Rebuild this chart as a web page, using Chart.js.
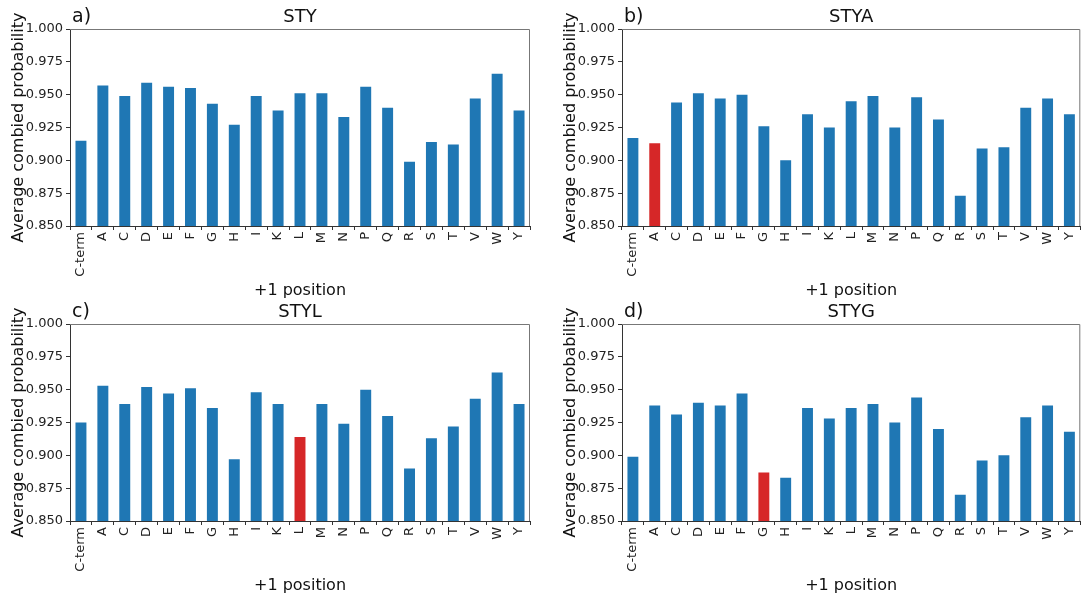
<!DOCTYPE html>
<html lang="en">
<head>
    <meta charset="UTF-8">
    <title>Average combined probability by +1 position</title>
    <script src="https://cdn.jsdelivr.net/npm/chart.js"></script>
    <style>
        body {
            margin: 0;
            background: #fff;
            width: 1081px;
            height: 597px;
            overflow: hidden;
            position: relative;
        }
        .panel {
            position: absolute;
        }
    </style>
</head>
<body>
    <canvas id="panelA" class="panel" width="540" height="300" style="left:0;top:0"></canvas>
    <canvas id="panelB" class="panel" width="535" height="300" style="left:552px;top:0"></canvas>
    <canvas id="panelC" class="panel" width="540" height="300" style="left:0;top:295px"></canvas>
    <canvas id="panelD" class="panel" width="535" height="300" style="left:552px;top:295px"></canvas>

    <script>
        // +1 position categories
        const positions = ['C-term', 'A', 'C', 'D', 'E', 'F', 'G', 'H', 'I', 'K', 'L', 'M', 'N', 'P', 'Q', 'R', 'S', 'T', 'V', 'W', 'Y'];

        // values
        const styValues  = [0.915, 0.957, 0.949, 0.959, 0.956, 0.955, 0.943, 0.927, 0.949, 0.938, 0.951, 0.951, 0.933, 0.956, 0.940, 0.899, 0.914, 0.912, 0.947, 0.966, 0.938];
        const styaValues = [0.917, 0.913, 0.944, 0.951, 0.947, 0.950, 0.926, 0.900, 0.935, 0.925, 0.945, 0.949, 0.925, 0.948, 0.931, 0.873, 0.909, 0.910, 0.940, 0.947, 0.935];
        const stylValues = [0.925, 0.953, 0.939, 0.952, 0.947, 0.951, 0.936, 0.897, 0.948, 0.939, 0.914, 0.939, 0.924, 0.950, 0.930, 0.890, 0.913, 0.922, 0.943, 0.963, 0.939];
        const stygValues = [0.899, 0.938, 0.931, 0.940, 0.938, 0.947, 0.887, 0.883, 0.936, 0.928, 0.936, 0.939, 0.925, 0.944, 0.920, 0.870, 0.896, 0.900, 0.929, 0.938, 0.918];

        // y axis range
        const yMin = 0.85;
        const yMax = 1.0;
        const yStep = 0.025;

        const BLUE = '#1f77b4';
        const RED = '#d62728';
        const FONT = "'DejaVu Sans', sans-serif";

        // box + panel letter + title, drawn relative to the plot area
        const panelDecor = {
            id: 'panelDecor',
            afterDraw(chart, args, opts) {
                const { ctx, chartArea: a } = chart;
                ctx.save();
                ctx.strokeStyle = '#777';
                ctx.lineWidth = 1;
                ctx.beginPath();
                ctx.moveTo(a.left, a.top + 0.5);
                ctx.lineTo(a.right - 0.5, a.top + 0.5);
                ctx.lineTo(a.right - 0.5, a.bottom);
                ctx.stroke();
                ctx.fillStyle = '#111';
                ctx.textBaseline = 'middle';
                ctx.font = '19px ' + FONT;
                ctx.textAlign = 'left';
                ctx.fillText(opts.letter, a.left + 2, a.top - 12);
                ctx.font = '18px ' + FONT;
                ctx.textAlign = 'center';
                ctx.fillText(opts.title, (a.left + a.right) / 2, a.top - 12);
                ctx.restore();
            }
        };

        function makePanel(id, title, letter, values, highlight, rightPad) {
            const colors = positions.map(p => p === highlight ? RED : BLUE);
            new Chart(document.getElementById(id), {
                type: 'bar',
                data: {
                    labels: positions,
                    datasets: [{
                        data: values,
                        backgroundColor: colors,
                        barPercentage: 0.5,
                        categoryPercentage: 1.0
                    }]
                },
                options: {
                    responsive: false,
                    animation: false,
                    layout: { padding: { left: 0, right: rightPad, top: 29, bottom: 0 } },
                    plugins: {
                        legend: { display: false },
                        tooltip: { enabled: false },
                        panelDecor: { title: title, letter: letter }
                    },
                    scales: {
                        x: {
                            afterFit: s => { s.height = 74; },
                            grid: { drawOnChartArea: false, tickLength: 4, color: '#333' },
                            border: { color: '#333' },
                            ticks: {
                                autoSkip: false,
                                minRotation: 90,
                                maxRotation: 90,
                                padding: 2,
                                color: '#222',
                                font: { family: FONT, size: 13 }
                            },
                            title: {
                                display: true,
                                text: '+1 position',
                                color: '#111',
                                padding: { top: 0, bottom: 0 },
                                font: { family: FONT, size: 16 }
                            }
                        },
                        y: {
                            min: yMin,
                            max: yMax,
                            afterFit: s => { s.width = 70; },
                            grid: { drawOnChartArea: false, tickLength: 4, color: '#333' },
                            border: { color: '#333' },
                            ticks: {
                                stepSize: yStep,
                                padding: 3,
                                color: '#222',
                                font: { family: FONT, size: 13 },
                                callback: v => Number(v).toFixed(3)
                            },
                            title: {
                                display: true,
                                text: 'Average combied probability',
                                color: '#111',
                                padding: { top: 9, bottom: 0 },
                                font: { family: FONT, size: 16 }
                            }
                        }
                    }
                },
                plugins: [panelDecor]
            });
        }

        makePanel('panelA', 'STY', 'a)', styValues, null, 10);
        makePanel('panelB', 'STYA', 'b)', styaValues, 'A', 0);
        makePanel('panelC', 'STYL', 'c)', stylValues, 'L', 10);
        makePanel('panelD', 'STYG', 'd)', stygValues, 'G', 0);
    </script>
</body>
</html>
